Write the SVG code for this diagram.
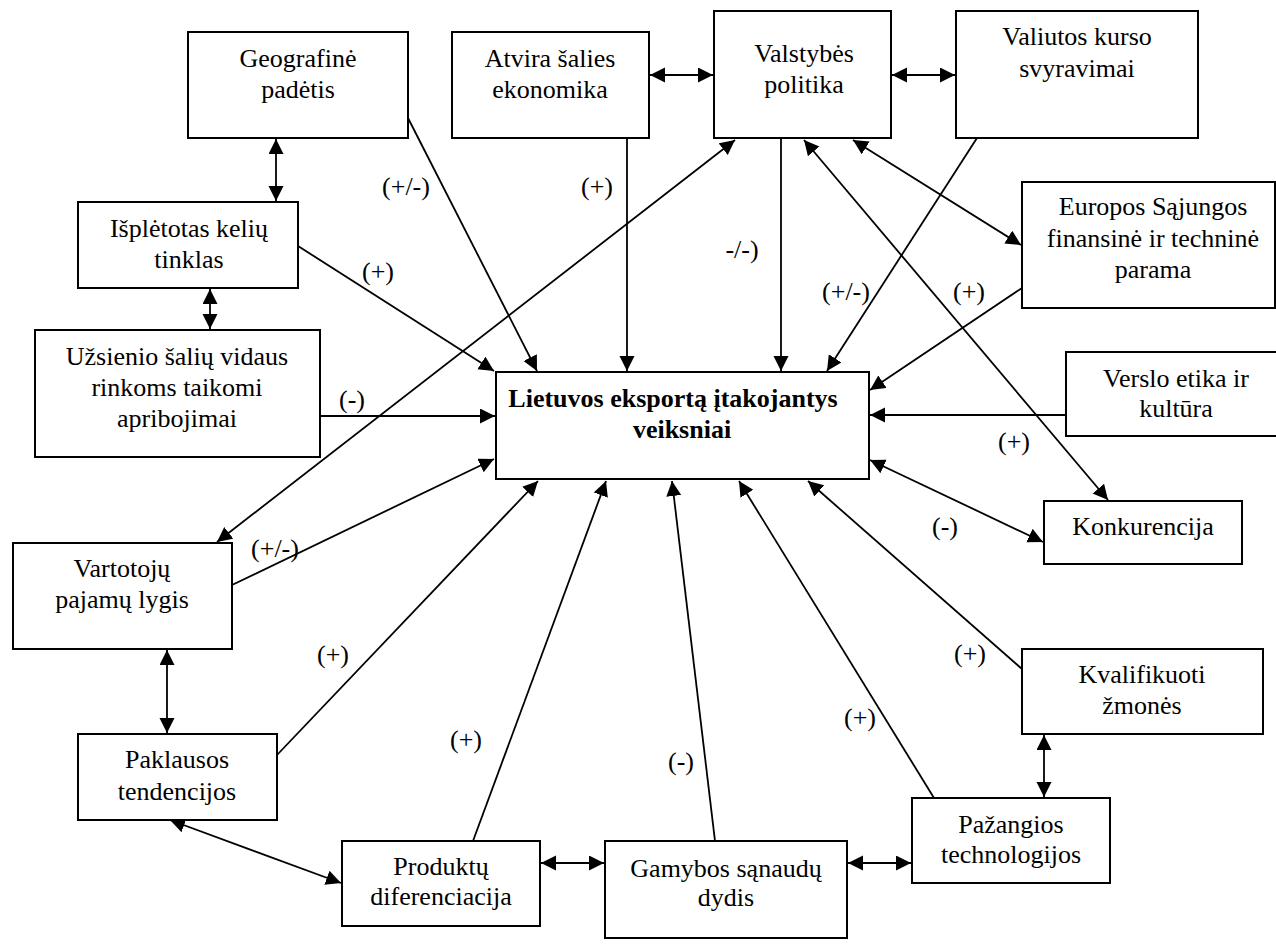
<svg xmlns="http://www.w3.org/2000/svg" width="1276" height="944" viewBox="0 0 1276 944">
<style>
.box{fill:#fff;stroke:#000;stroke-width:2}
.t{font-family:"Liberation Serif","Times New Roman",serif;font-size:26px;fill:#000;text-anchor:middle}
.b{font-weight:bold}
.c line{stroke:#000;stroke-width:1.8;fill:none}
.e{marker-end:url(#ah)}
.d{marker-end:url(#ah);marker-start:url(#ah)}
</style>
<defs>
<marker id="ah" markerUnits="userSpaceOnUse" markerWidth="16" markerHeight="16" viewBox="0 0 16 16" refX="15" refY="7.5" orient="auto-start-reverse">
<path d="M0,0 L15,7.5 L0,15 z" fill="#000"/>
</marker>
</defs>
<rect width="1276" height="944" fill="#fff"/>

<g id="connectors" class="c">
<line class="e" x1="408" y1="118" x2="537" y2="371"/>
<line class="e" x1="298" y1="246" x2="494" y2="371"/>
<line class="e" x1="320" y1="416" x2="495" y2="416"/>
<line class="e" x1="232" y1="585" x2="494" y2="459"/>
<line class="d" x1="735" y1="140" x2="217" y2="542"/>
<line class="e" x1="627" y1="138" x2="627" y2="371"/>
<line class="e" x1="781" y1="138" x2="781" y2="371"/>
<line class="e" x1="977" y1="138" x2="827" y2="371"/>
<line class="d" x1="804" y1="140" x2="1108" y2="500"/>
<line class="d" x1="853" y1="140" x2="1021" y2="245"/>
<line class="e" x1="1022" y1="288" x2="870" y2="390"/>
<line class="e" x1="1066" y1="415" x2="870" y2="415"/>
<line class="d" x1="870" y1="460" x2="1043" y2="542"/>
<line class="e" x1="1022" y1="669" x2="808" y2="481"/>
<line class="e" x1="934" y1="798" x2="739" y2="481"/>
<line class="e" x1="715" y1="841" x2="672" y2="481"/>
<line class="e" x1="473" y1="841" x2="606" y2="481"/>
<line class="e" x1="277" y1="755" x2="538" y2="481"/>
<line class="d" x1="276" y1="139" x2="276" y2="201"/>
<line class="d" x1="210" y1="289" x2="210" y2="329"/>
<line class="d" x1="650" y1="75" x2="713" y2="75"/>
<line class="d" x1="892" y1="75" x2="955" y2="75"/>
<line class="d" x1="167" y1="650" x2="167" y2="733"/>
<line class="d" x1="170" y1="820" x2="341" y2="883"/>
<line class="d" x1="541" y1="863" x2="604" y2="863"/>
<line class="d" x1="848" y1="863" x2="911" y2="863"/>
<line class="d" x1="1044" y1="735" x2="1044" y2="797"/>
</g>

<g id="labels">
<text class="t" x="406" y="195">(+/-)</text>
<text class="t" x="378" y="280">(+)</text>
<text class="t" x="597" y="195">(+)</text>
<text class="t" x="742" y="258">-/-)</text>
<text class="t" x="846" y="300">(+/-)</text>
<text class="t" x="969" y="300">(+)</text>
<text class="t" x="352" y="408">(-)</text>
<text class="t" x="275" y="557">(+/-)</text>
<text class="t" x="1014" y="450">(+)</text>
<text class="t" x="945" y="535">(-)</text>
<text class="t" x="333" y="663">(+)</text>
<text class="t" x="466" y="748">(+)</text>
<text class="t" x="681" y="770">(-)</text>
<text class="t" x="860" y="726">(+)</text>
<text class="t" x="970" y="662">(+)</text>
</g>

<g id="n-geografine">
<rect class="box" x="188" y="32" width="220" height="106"/>
<text class="t" x="298" y="67">Geografinė</text>
<text class="t" x="298" y="98">padėtis</text>
</g>
<g id="n-atvira">
<rect class="box" x="452" y="32" width="197" height="106"/>
<text class="t" x="550" y="67">Atvira šalies</text>
<text class="t" x="550" y="98">ekonomika</text>
</g>
<g id="n-valstybes">
<rect class="box" x="714" y="11" width="177" height="127"/>
<text class="t" x="804" y="62">Valstybės</text>
<text class="t" x="804" y="93">politika</text>
</g>
<g id="n-valiutos">
<rect class="box" x="956" y="11" width="242" height="127"/>
<text class="t" x="1077" y="45">Valiutos kurso</text>
<text class="t" x="1077" y="77">svyravimai</text>
</g>
<g id="n-isplėtotas">
<rect class="box" x="78" y="202" width="220" height="86"/>
<text class="t" x="189" y="237">Išplėtotas kelių</text>
<text class="t" x="189" y="268">tinklas</text>
</g>
<g id="n-europos">
<rect class="box" x="1022" y="182" width="253" height="126"/>
<text class="t" x="1153" y="215">Europos Sąjungos</text>
<text class="t" x="1153" y="247">finansinė ir techninė</text>
<text class="t" x="1153" y="278">parama</text>
</g>
<g id="n-uzsienio">
<rect class="box" x="35" y="330" width="285" height="127"/>
<text class="t" x="177" y="365">Užsienio šalių vidaus</text>
<text class="t" x="177" y="396">rinkoms taikomi</text>
<text class="t" x="177" y="427">apribojimai</text>
</g>
<g id="n-main">
<rect class="box" x="496" y="372" width="373" height="107"/>
<text class="t b" x="673" y="407">Lietuvos eksportą įtakojantys</text>
<text class="t b" x="682" y="438">veiksniai</text>
</g>
<g id="n-verslo">
<rect class="box" x="1066" y="352" width="216" height="84"/>
<text class="t" x="1176" y="387">Verslo etika ir</text>
<text class="t" x="1176" y="417">kultūra</text>
</g>
<g id="n-konkurencija">
<rect class="box" x="1044" y="501" width="198" height="63"/>
<text class="t" x="1143" y="535">Konkurencija</text>
</g>
<g id="n-vartotoju">
<rect class="box" x="13" y="543" width="219" height="106"/>
<text class="t" x="122" y="577">Vartotojų</text>
<text class="t" x="122" y="608">pajamų lygis</text>
</g>
<g id="n-kvalifikuoti">
<rect class="box" x="1022" y="649" width="241" height="85"/>
<text class="t" x="1142" y="683">Kvalifikuoti</text>
<text class="t" x="1142" y="714">žmonės</text>
</g>
<g id="n-paklausos">
<rect class="box" x="78" y="734" width="199" height="86"/>
<text class="t" x="177" y="768">Paklausos</text>
<text class="t" x="177" y="800">tendencijos</text>
</g>
<g id="n-pazangios">
<rect class="box" x="912" y="798" width="198" height="85"/>
<text class="t" x="1011" y="833">Pažangios</text>
<text class="t" x="1011" y="863">technologijos</text>
</g>
<g id="n-produktu">
<rect class="box" x="342" y="841" width="198" height="85"/>
<text class="t" x="441" y="875">Produktų</text>
<text class="t" x="441" y="905">diferenciacija</text>
</g>
<g id="n-gamybos">
<rect class="box" x="605" y="841" width="242" height="97"/>
<text class="t" x="726" y="877">Gamybos sąnaudų</text>
<text class="t" x="726" y="906">dydis</text>
</g>
</svg>
